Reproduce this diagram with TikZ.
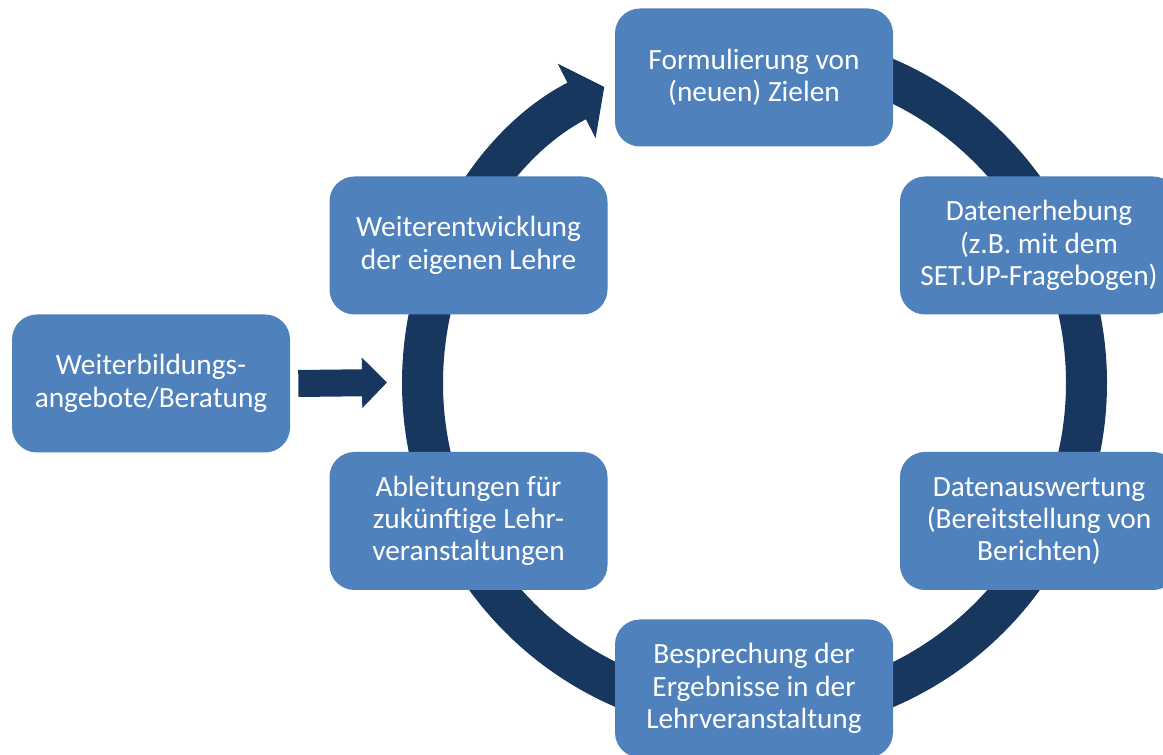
\documentclass[tikz,border=0pt]{standalone}
\usepackage{fontspec}
\setmainfont{Carlito}
\usetikzlibrary{positioning, arrows.meta}
\definecolor{boxblue}{HTML}{4F81BD}
\definecolor{ringblue}{HTML}{17375E}

\begin{document}
\begin{tikzpicture}[box/.style={rectangle, rounded corners=0.5cm, fill=boxblue, text=white,
        minimum width=5.56cm, minimum height=2.76cm, align=center,
        font=\fontsize{16.7}{18.4}\selectfont},
    ring/.style={draw=ringblue, line width=0.82cm}]
    \useasboundingbox (0,0) rectangle (23.26,15.1);
    \coordinate (c) at (15.09,7.44);

    \draw[ring, -{Triangle[length=0.62cm, width=1.64cm]}] (c) ++(90:6.64)
        arc[start angle=90, end angle=-243.1, radius=6.64];

    \node[box] (ziel) at (15.08,13.55) {Formulierung von\\(neuen) Zielen};
    \node[box] (erheb) at (20.78,10.19) {Datenerhebung\\(z.B. mit dem\\SET.UP-Fragebogen)};
    \node[box] (auswert) at (20.78,4.68) {Datenauswertung\\(Bereitstellung von\\Berichten)};
    \node[box] (bespr) at (15.08,1.33) {Besprechung der\\Ergebnisse in der\\Lehrveranstaltung};
    \node[box] (ableit) at (9.37,4.68) {Ableitungen für\\zukünftige Lehr-\\veranstaltungen};
    \node[box] (weiter) at (9.37,10.19) {Weiterentwicklung\\der eigenen Lehre};
    \node[box] (bildung) at (3.02,7.43) {Weiterbildungs-\\angebote/Beratung};

    \coordinate (ein) at (7.74,7.45);
    \draw[draw=ringblue, line width=0.54cm, -{Triangle[length=0.5cm, width=0.98cm]}]
        ([xshift=0.16cm]bildung.east) -- (ein);
\end{tikzpicture}
\end{document}
